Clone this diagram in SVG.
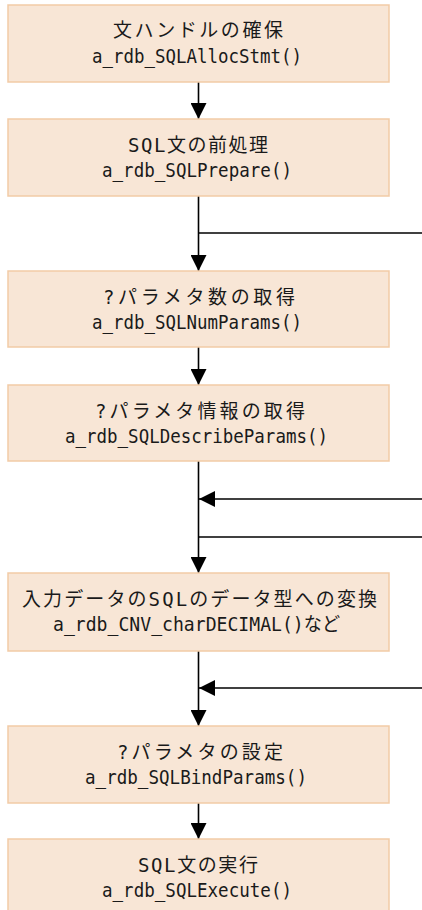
<svg xmlns="http://www.w3.org/2000/svg" width="422" height="910" viewBox="0 0 422 910">
<style>
.box{fill:#f8e6d6;stroke:#f2cba6;stroke-width:1.5}
.t{font-family:"DejaVu Sans Mono","Noto Sans CJK JP",monospace;font-size:19px;fill:#1a1a1a;text-anchor:middle}
.c{stroke:#000;stroke-width:1.6;fill:none}
</style>
<defs>
<marker id="ah" markerUnits="userSpaceOnUse" markerWidth="16" markerHeight="16" refX="16" refY="8" orient="auto" viewBox="0 0 16 16">
<path d="M0,0 L16,8 L0,16 z" fill="#000"/>
</marker>
</defs>
<rect width="422" height="910" fill="#fff"/>
<g id="connectors">
<line class="c" x1="198.5" y1="82" x2="198.5" y2="119" marker-end="url(#ah)"/>
<line class="c" x1="198.5" y1="196" x2="198.5" y2="271" marker-end="url(#ah)"/>
<line class="c" x1="198.5" y1="233" x2="422" y2="233"/>
<line class="c" x1="198.5" y1="347" x2="198.5" y2="385" marker-end="url(#ah)"/>
<line class="c" x1="198.5" y1="461" x2="198.5" y2="573" marker-end="url(#ah)"/>
<line class="c" x1="422" y1="499" x2="199" y2="499" marker-end="url(#ah)"/>
<line class="c" x1="198.5" y1="537" x2="422" y2="537"/>
<line class="c" x1="198.5" y1="651" x2="198.5" y2="726" marker-end="url(#ah)"/>
<line class="c" x1="422" y1="688" x2="199" y2="688" marker-end="url(#ah)"/>
<line class="c" x1="198.5" y1="803" x2="198.5" y2="839" marker-end="url(#ah)"/>
</g>
<g id="n1">
<rect class="box" x="8" y="5" width="381" height="77"/>
<text class="t" x="198" y="37" textLength="170" lengthAdjust="spacing">文ハンドルの確保</text>
<text class="t" x="197" y="63" textLength="210" lengthAdjust="spacingAndGlyphs">a_rdb_SQLAllocStmt()</text>
</g>
<g id="n2">
<rect class="box" x="8" y="119" width="381" height="77"/>
<text class="t" x="198" y="152" textLength="140" lengthAdjust="spacing">SQL文の前処理</text>
<text class="t" x="197" y="177" textLength="190" lengthAdjust="spacingAndGlyphs">a_rdb_SQLPrepare()</text>
</g>
<g id="n3">
<rect class="box" x="8" y="271" width="381" height="76"/>
<text class="t" x="199" y="304" textLength="192" lengthAdjust="spacing">?パラメタ数の取得</text>
<text class="t" x="197" y="329" textLength="210" lengthAdjust="spacingAndGlyphs">a_rdb_SQLNumParams()</text>
</g>
<g id="n4">
<rect class="box" x="8" y="385" width="381" height="76"/>
<text class="t" x="200" y="418" textLength="210" lengthAdjust="spacing">?パラメタ情報の取得</text>
<text class="t" x="196.5" y="443" textLength="263" lengthAdjust="spacingAndGlyphs">a_rdb_SQLDescribeParams()</text>
</g>
<g id="n5">
<rect class="box" x="8" y="573" width="381" height="78"/>
<text class="t" x="199.5" y="606" textLength="355" lengthAdjust="spacing">入力データのSQLのデータ型への変換</text>
<text class="t" x="196.5" y="631" textLength="287" lengthAdjust="spacingAndGlyphs">a_rdb_CNV_charDECIMAL()など</text>
</g>
<g id="n6">
<rect class="box" x="8" y="726" width="381" height="77"/>
<text class="t" x="200" y="759" textLength="166" lengthAdjust="spacing">?パラメタの設定</text>
<text class="t" x="196" y="784" textLength="222" lengthAdjust="spacingAndGlyphs">a_rdb_SQLBindParams()</text>
</g>
<g id="n7">
<rect class="box" x="8" y="839" width="381" height="78"/>
<text class="t" x="198" y="872" textLength="120" lengthAdjust="spacing">SQL文の実行</text>
<text class="t" x="197" y="897" textLength="190" lengthAdjust="spacingAndGlyphs">a_rdb_SQLExecute()</text>
</g>
</svg>
